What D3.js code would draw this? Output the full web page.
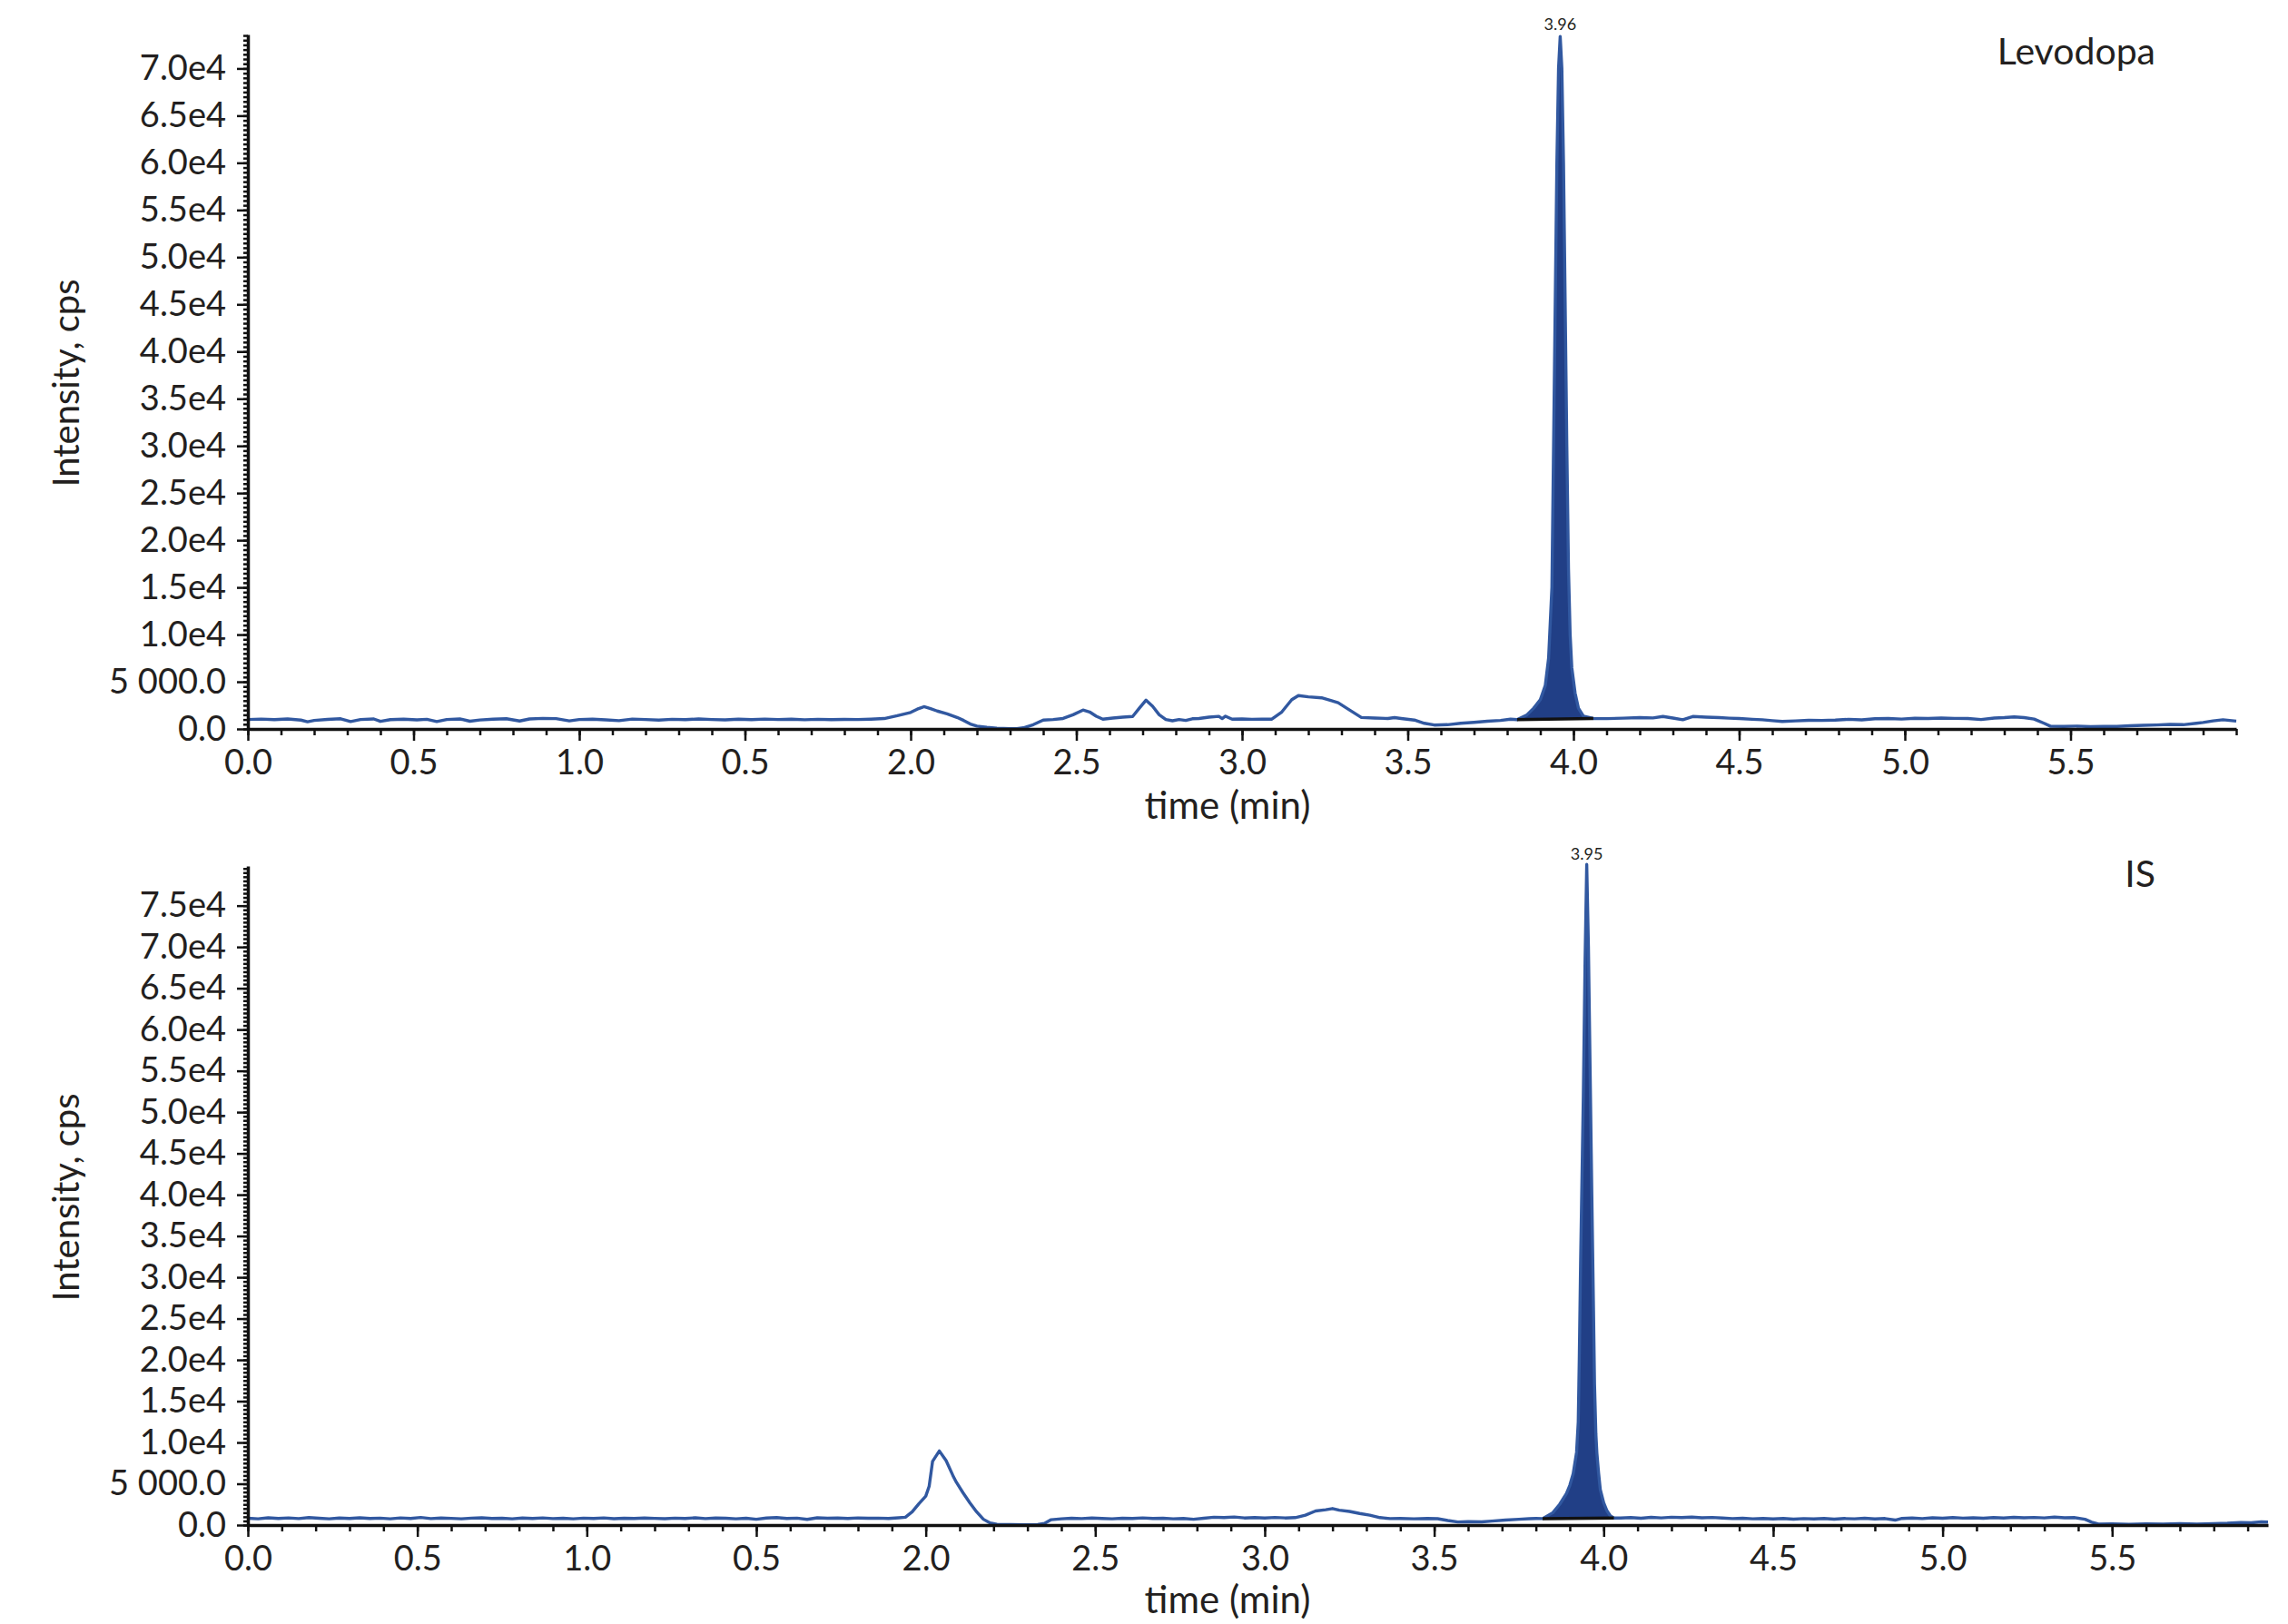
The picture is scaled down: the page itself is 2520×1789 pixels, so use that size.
<!DOCTYPE html>
<html>
<head>
<meta charset="utf-8">
<script src="https://cdn.jsdelivr.net/npm/d3@7"></script>
<style>
  body { margin: 0; background: #fff; }
  svg { display: block; font-family: Lato, "Open Sans", sans-serif; }
</style>
</head>
<body>
<svg id="chart" width="2520" height="1789"></svg>
<script>
// x tick labels as printed (the 1.5 position really reads "0.5" in the original)
const xTickLabels = ['0.0', '0.5', '1.0', '0.5', '2.0', '2.5', '3.0', '3.5', '4.0', '4.5', '5.0', '5.5']
const xTickValues = [0, 0.5, 1, 1.5, 2, 2.5, 3, 3.5, 4, 4.5, 5, 5.5]
const levodopaYTicks = d3.range(0, 70001, 5000)
const isYTicks = d3.range(0, 75001, 5000)

// [time (min), intensity (cps)]
const levodopaTrace = [
  [0.00, 1000], [0.04, 1050], [0.08, 980], [0.12, 1060], [0.16, 940], [0.18, 760], [0.20, 900],
  [0.24, 1010], [0.28, 1080], [0.31, 780], [0.34, 1000], [0.38, 1060], [0.40, 800], [0.43, 990],
  [0.47, 1040], [0.51, 960], [0.54, 1020], [0.57, 780], [0.60, 1000], [0.64, 1060], [0.67, 820],
  [0.70, 950], [0.74, 1040], [0.78, 1080], [0.82, 840], [0.85, 1060], [0.89, 1120], [0.93, 1090],
  [0.97, 860], [1.00, 1000], [1.04, 1040], [1.08, 960], [1.12, 880], [1.16, 1050], [1.20, 1000],
  [1.24, 940], [1.28, 1020], [1.32, 980], [1.36, 1060], [1.40, 1000], [1.44, 960], [1.48, 1030],
  [1.52, 990], [1.56, 1050], [1.60, 1000], [1.64, 1040], [1.68, 970], [1.72, 1020], [1.76, 990],
  [1.80, 1010], [1.84, 1000], [1.88, 1040], [1.92, 1100], [1.96, 1400], [2.00, 1750], [2.02, 2100],
  [2.04, 2360], [2.06, 2150], [2.08, 1900], [2.11, 1600], [2.14, 1220], [2.16, 900], [2.18, 520],
  [2.20, 300], [2.23, 170], [2.26, 80], [2.30, 20], [2.32, 40], [2.34, 120], [2.37, 450],
  [2.40, 940], [2.43, 1000], [2.46, 1110], [2.49, 1500], [2.52, 2000], [2.54, 1800], [2.56, 1350],
  [2.58, 1040], [2.61, 1150], [2.64, 1250], [2.67, 1320], [2.69, 2200], [2.71, 3050], [2.73, 2400],
  [2.75, 1500], [2.77, 1000], [2.79, 870], [2.81, 1000], [2.83, 900], [2.85, 1080], [2.87, 1110],
  [2.90, 1250], [2.93, 1330], [2.94, 1100], [2.95, 1350], [2.97, 1040], [3.00, 1060], [3.03, 1020],
  [3.06, 1050], [3.09, 1040], [3.12, 1800], [3.15, 3100], [3.17, 3540], [3.20, 3400], [3.24, 3300],
  [3.27, 3000], [3.29, 2780], [3.32, 2100], [3.36, 1215], [3.40, 1150], [3.44, 1110], [3.46, 1200],
  [3.48, 1110], [3.52, 940], [3.55, 600], [3.58, 415], [3.62, 450], [3.66, 600], [3.70, 700],
  [3.74, 820], [3.78, 900], [3.81, 1040], [3.83, 980], [3.86, 1500], [3.88, 2200], [3.90, 3100],
  [3.915, 4600], [3.925, 7500], [3.935, 15000], [3.94, 30000], [3.945, 45000], [3.95, 60000],
  [3.955, 70000], [3.96, 73400], [3.965, 70000], [3.97, 60000], [3.975, 45000], [3.98, 30000],
  [3.985, 17000], [3.99, 10000], [3.995, 6500], [4.005, 3800], [4.015, 2200], [4.03, 1350],
  [4.06, 1110], [4.10, 1090], [4.15, 1145], [4.20, 1200], [4.24, 1170], [4.27, 1320], [4.30, 1150],
  [4.33, 970], [4.36, 1320], [4.40, 1250], [4.44, 1200], [4.47, 1145], [4.50, 1100], [4.54, 1020],
  [4.57, 970], [4.60, 880], [4.63, 800], [4.67, 850], [4.71, 920], [4.75, 900], [4.79, 940],
  [4.83, 1020], [4.87, 960], [4.91, 1080], [4.95, 1110], [4.99, 1050], [5.03, 1130], [5.07, 1100],
  [5.11, 1150], [5.15, 1120], [5.19, 1110], [5.23, 1000], [5.27, 1160], [5.30, 1200], [5.33, 1280],
  [5.36, 1200], [5.39, 1040], [5.42, 600], [5.44, 280], [5.48, 260], [5.52, 300], [5.56, 240],
  [5.60, 280], [5.64, 260], [5.68, 330], [5.72, 380], [5.76, 420], [5.80, 480], [5.84, 450],
  [5.88, 600], [5.90, 690], [5.93, 850], [5.96, 970], [5.98, 900], [6.00, 830]
]

const isTrace = [
  [0.00, 820], [0.03, 760], [0.06, 880], [0.09, 800], [0.12, 860], [0.15, 780], [0.18, 900],
  [0.21, 820], [0.24, 760], [0.27, 850], [0.30, 800], [0.33, 880], [0.36, 790], [0.39, 840],
  [0.42, 760], [0.45, 860], [0.48, 800], [0.51, 920], [0.54, 780], [0.57, 850], [0.60, 810],
  [0.63, 760], [0.66, 840], [0.69, 880], [0.72, 790], [0.75, 830], [0.78, 760], [0.81, 850],
  [0.84, 800], [0.87, 870], [0.90, 780], [0.93, 820], [0.96, 760], [0.99, 840], [1.02, 800],
  [1.05, 860], [1.08, 770], [1.11, 830], [1.14, 790], [1.17, 850], [1.20, 810], [1.23, 770],
  [1.26, 840], [1.29, 800], [1.32, 880], [1.35, 780], [1.38, 850], [1.41, 820], [1.44, 760],
  [1.47, 830], [1.50, 700], [1.53, 850], [1.56, 900], [1.59, 800], [1.62, 840], [1.65, 690],
  [1.68, 880], [1.71, 820], [1.74, 850], [1.77, 790], [1.80, 860], [1.83, 820], [1.86, 840],
  [1.89, 790], [1.92, 880], [1.94, 950], [1.96, 1600], [1.98, 2600], [2.00, 3500], [2.01, 4700],
  [2.02, 7700], [2.04, 8970], [2.06, 7800], [2.08, 6000], [2.09, 5200], [2.11, 3900], [2.13, 2700],
  [2.15, 1600], [2.17, 700], [2.19, 250], [2.21, 100], [2.25, 60], [2.29, 40], [2.33, 70],
  [2.35, 200], [2.37, 650], [2.40, 760], [2.43, 820], [2.46, 780], [2.49, 850], [2.52, 800],
  [2.55, 760], [2.58, 830], [2.61, 800], [2.64, 860], [2.67, 790], [2.70, 820], [2.73, 760],
  [2.76, 800], [2.79, 700], [2.82, 820], [2.85, 950], [2.88, 900], [2.91, 980], [2.94, 860],
  [2.97, 900], [3.00, 850], [3.03, 920], [3.06, 860], [3.09, 900], [3.12, 1200], [3.15, 1700],
  [3.18, 1850], [3.20, 2000], [3.22, 1800], [3.25, 1650], [3.28, 1400], [3.31, 1200], [3.34, 900],
  [3.37, 780], [3.40, 800], [3.44, 760], [3.48, 790], [3.51, 770], [3.54, 550], [3.57, 370],
  [3.60, 420], [3.64, 380], [3.67, 480], [3.71, 600], [3.75, 700], [3.78, 770], [3.80, 800],
  [3.82, 780], [3.85, 1500], [3.87, 2500], [3.89, 3800], [3.90, 4800], [3.91, 6200], [3.92, 8800],
  [3.925, 12500], [3.928, 20000], [3.932, 32000], [3.94, 52000], [3.945, 68000], [3.95, 80000],
  [3.955, 70000], [3.96, 55000], [3.965, 40000], [3.97, 26000], [3.973, 17000], [3.977, 11000],
  [3.98, 8700], [3.985, 6300], [3.99, 4300], [4.00, 2700], [4.01, 1700], [4.02, 1100], [4.03, 850],
  [4.05, 850], [4.08, 900], [4.11, 820], [4.14, 930], [4.17, 870], [4.20, 950], [4.23, 900],
  [4.26, 960], [4.29, 880], [4.32, 920], [4.35, 850], [4.38, 780], [4.41, 820], [4.44, 760],
  [4.47, 800], [4.50, 740], [4.53, 790], [4.56, 720], [4.59, 780], [4.62, 750], [4.65, 800],
  [4.68, 720], [4.71, 790], [4.74, 760], [4.77, 820], [4.80, 740], [4.83, 790], [4.86, 600],
  [4.88, 800], [4.91, 850], [4.94, 780], [4.97, 880], [5.00, 820], [5.03, 900], [5.06, 840],
  [5.09, 880], [5.12, 820], [5.15, 900], [5.18, 850], [5.21, 940], [5.24, 880], [5.27, 920],
  [5.30, 860], [5.33, 960], [5.36, 880], [5.39, 900], [5.42, 700], [5.44, 350], [5.46, 110],
  [5.50, 130], [5.55, 100], [5.60, 150], [5.65, 120], [5.70, 160], [5.75, 120], [5.80, 180],
  [5.84, 220], [5.88, 300], [5.91, 280], [5.94, 380], [5.96, 350]
]

// integrated peak: start, end, apex time label
const levodopaPeak = { start: 3.83, end: 4.06, apex: 3.96, label: '3.96' }
const isPeak = { start: 3.82, end: 4.03, apex: 3.95, label: '3.95' }

const panels = [
  { name: 'Levodopa', trace: levodopaTrace, peak: levodopaPeak, yTicks: levodopaYTicks,
    xMax: 6.0, yMax: 73600, left: 273, right: 2463, top: 38, bottom: 803,
    nameY: 71, xLabelY: 902, yLabelY: 422 },
  { name: 'IS', trace: isTrace, peak: isPeak, yTicks: isYTicks,
    xMax: 5.96, yMax: 79800, left: 273, right: 2498, top: 954, bottom: 1680,
    nameY: 977, xLabelY: 1777, yLabelY: 1319 }
]

const lineColor = '#3158a0'
const fillColor = '#213f86'
const textColor = '#231f20'

const svg = d3.select('#chart')

function fmtY (v) {
  if (v === 0) return '0.0'
  if (v < 10000) return d3.format(',.1f')(v).replace(',', ' ')
  return (v / 1e4).toFixed(1) + 'e4'
}

panels.forEach(p => {
  const x = d3.scaleLinear().domain([0, p.xMax]).range([p.left, p.right])
  const y = d3.scaleLinear().domain([0, p.yMax]).range([p.bottom, p.top])
  const g = svg.append('g')

  // filled integrated peak, between trace and straight baseline
  const inPeak = p.trace.filter(d => d[0] >= p.peak.start && d[0] <= p.peak.end)
  const s = inPeak[0]
  const e = inPeak[inPeak.length - 1]
  const base = t => s[1] + (e[1] - s[1]) * (t - s[0]) / (e[0] - s[0])
  g.append('path')
    .datum(inPeak)
    .attr('d', d3.area().x(d => x(d[0])).y0(d => y(base(d[0]))).y1(d => y(d[1])))
    .style('fill', fillColor)

  g.append('path')
    .datum(p.trace)
    .attr('d', d3.line().x(d => x(d[0])).y(d => y(d[1])))
    .style('fill', 'none')
    .style('stroke', lineColor)
    .style('stroke-width', 3.4)
    .style('stroke-linejoin', 'round')

  g.append('line')
    .attr('x1', x(s[0])).attr('y1', y(s[1]))
    .attr('x2', x(e[0])).attr('y2', y(e[1]))
    .style('stroke', '#111')
    .style('stroke-width', 3.5)

  // minor ticks
  const xMinor = d3.axisBottom(x).tickValues(d3.range(0, p.xMax + 1e-9, 0.1)).tickSize(7).tickFormat('')
  g.append('g').attr('transform', `translate(0,${p.bottom})`).call(xMinor)
    .call(a => a.select('.domain').remove())
  const yMinor = d3.axisLeft(y).tickValues(d3.range(0, p.yMax, 500)).tickSize(5).tickFormat('')
  g.append('g').attr('transform', `translate(${p.left},0)`).call(yMinor)
    .call(a => a.select('.domain').remove())

  // major axes
  const xAxis = d3.axisBottom(x).tickValues(xTickValues).tickSize(13).tickSizeOuter(0)
    .tickFormat((d, i) => xTickLabels[i]).tickPadding(10)
  g.append('g').attr('class', 'x-axis').attr('transform', `translate(0,${p.bottom})`).call(xAxis)

  const yAxis = d3.axisLeft(y).tickValues(p.yTicks).tickSize(12).tickSizeOuter(0)
    .tickFormat(fmtY).tickPadding(12)
  g.append('g').attr('class', 'y-axis').attr('transform', `translate(${p.left},0)`).call(yAxis)

  g.selectAll('.tick line').style('stroke', '#111').style('stroke-width', 2.5)
  g.selectAll('.domain').style('stroke', '#111').style('stroke-width', 3.5)
  g.selectAll('.tick text').style('font-family', 'Lato').style('font-size', '38px').style('fill', textColor)

  // axis titles
  g.append('text')
    .attr('x', 1352).attr('y', p.xLabelY)
    .attr('text-anchor', 'middle')
    .style('font-size', '42px').style('fill', textColor)
    .text('time (min)')
  g.append('text')
    .attr('transform', `translate(87,${p.yLabelY}) rotate(-90)`)
    .attr('text-anchor', 'middle')
    .style('font-size', '40px').style('fill', textColor)
    .text('Intensity, cps')

  g.append('text')
    .attr('x', 2374).attr('y', p.nameY)
    .attr('text-anchor', 'end')
    .style('font-size', '41px').style('fill', textColor)
    .text(p.name)

  const apex = p.trace.find(d => d[0] === p.peak.apex)
  g.append('text')
    .attr('x', x(apex[0])).attr('y', Math.max(y(apex[1]), p.top) - 7)
    .attr('text-anchor', 'middle')
    .style('font-size', '18px').style('fill', textColor)
    .text(p.peak.label)
})
</script>
</body>
</html>
